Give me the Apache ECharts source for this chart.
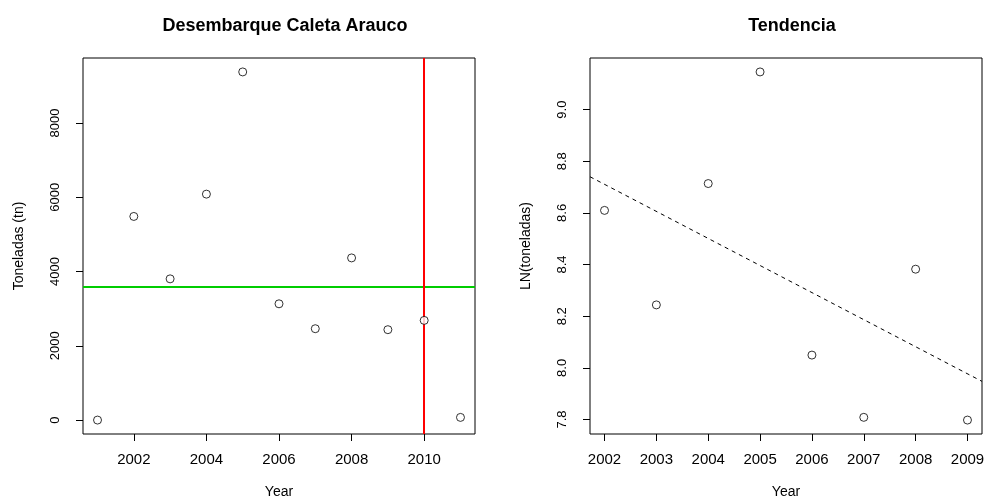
<!DOCTYPE html>
<html>
<head>
<meta charset="utf-8">
<script src="https://cdn.jsdelivr.net/npm/echarts@6/dist/echarts.min.js"></script>
<style>
  html, body { margin: 0; padding: 0; background: #fff; }
  #chart { width: 986px; height: 499px; }
</style>
</head>
<body>
<div id="chart"></div>
<script>
// datos
var years = [2001, 2002, 2003, 2004, 2005, 2006, 2007, 2008, 2009, 2010, 2011];
var toneladas = [0, 5485, 3804, 6086, 9378, 3132, 2461, 4368, 2435, 2685, 72];
var promedio = 3600;      // linea verde
var corte = 2010;         // linea roja

var leftXTicks = [2002, 2004, 2006, 2008, 2010];
var leftYTicks = [0, 2000, 4000, 6000, 8000];

var trendYears = [2002, 2003, 2004, 2005, 2006, 2007, 2008, 2009];
var rightYTicks = [7.8, 8.0, 8.2, 8.4, 8.6, 8.8, 9.0];

// LN de las toneladas 2002-2009
var lnTon = trendYears.map(function (y) {
  return Math.log(toneladas[years.indexOf(y)]);
});

// rango de ejes como en R (4% extra)
function rRange(arr) {
  var mn = Math.min.apply(null, arr), mx = Math.max.apply(null, arr);
  var d = (mx - mn) * 0.04;
  return [mn - d, mx + d];
}

// regresion lineal simple
function fit(xs, ys) {
  var n = xs.length, mx = 0, my = 0;
  for (var i = 0; i < n; i++) { mx += xs[i]; my += ys[i]; }
  mx /= n; my /= n;
  var sxy = 0, sxx = 0;
  for (var j = 0; j < n; j++) {
    sxy += (xs[j] - mx) * (ys[j] - my);
    sxx += (xs[j] - mx) * (xs[j] - mx);
  }
  var b = sxy / sxx;
  return { a: my - b * mx, b: b };
}

var lx = rRange(years), ly = rRange(toneladas);
var rx = rRange(trendYears), ry = rRange(lnTon);
var lm = fit(trendYears, lnTon);

var font = 'Liberation Sans, Arial, Helvetica, sans-serif';

function xAx(idx, range, ticks) {
  return {
    type: 'value', gridIndex: idx, min: range[0], max: range[1],
    name: 'Year', nameLocation: 'middle', nameGap: 51,
    nameTextStyle: { color: '#000', fontFamily: font, fontSize: 14 },
    axisLine: { show: false, onZero: false },
    axisTick: { show: true, length: 7, customValues: ticks, lineStyle: { color: '#000' } },
    axisLabel: { customValues: ticks, color: '#000', fontFamily: font, fontSize: 15, margin: 18,
      formatter: function (v) { return String(v); } },
    splitLine: { show: false }
  };
}

function yAx(idx, range, ticks, name, fmt) {
  return {
    type: 'value', gridIndex: idx, min: range[0], max: range[1],
    name: name, nameLocation: 'middle', nameGap: 57,
    nameTextStyle: { color: '#000', fontFamily: font, fontSize: 14 },
    axisLine: { show: false, onZero: false },
    axisTick: { show: true, length: 7, customValues: ticks, lineStyle: { color: '#000' } },
    axisLabel: { customValues: ticks, rotate: 90, color: '#000', fontFamily: font, fontSize: 13, margin: 21,
      formatter: fmt },
    splitLine: { show: false }
  };
}

var circle = {
  symbol: 'circle', symbolSize: 8,
  itemStyle: { color: '#fff', borderColor: '#000', borderWidth: 1 }
};

var myChart = echarts.init(document.getElementById('chart'));
myChart.setOption({
  animation: false,
  backgroundColor: '#fff',
  title: [
    { text: 'Desembarque Caleta Arauco', left: 280, top: 12, textAlign: 'center',
      textStyle: { fontFamily: font, fontSize: 18, fontWeight: 'bold', color: '#000' } },
    { text: 'Tendencia', left: 787, top: 12, textAlign: 'center',
      textStyle: { fontFamily: font, fontSize: 18, fontWeight: 'bold', color: '#000' } }
  ],
  grid: [
    { left: 83, right: 511, top: 58, bottom: 65, show: true, borderColor: '#000', borderWidth: 1,
      outerBoundsMode: 'none' },
    { left: 590, right: 4, top: 58, bottom: 65, show: true, borderColor: '#000', borderWidth: 1,
      outerBoundsMode: 'none' }
  ],
  xAxis: [xAx(0, lx, leftXTicks), xAx(1, rx, trendYears)],
  yAxis: [
    yAx(0, ly, leftYTicks, 'Toneladas (tn)', function (v) { return String(v); }),
    yAx(1, ry, rightYTicks, 'LN(toneladas)', function (v) { return v.toFixed(1); })
  ],
  series: [
    Object.assign({
      type: 'scatter', xAxisIndex: 0, yAxisIndex: 0, z: 5,
      data: years.map(function (y, i) { return [y, toneladas[i]]; }),
      markLine: {
        silent: true, symbol: 'none', label: { show: false },
        data: [
          { yAxis: promedio, lineStyle: { color: '#00cd00', width: 2, type: 'solid' } },
          { xAxis: corte, lineStyle: { color: '#ff0000', width: 2, type: 'solid' } }
        ]
      }
    }, circle),
    Object.assign({
      type: 'scatter', xAxisIndex: 1, yAxisIndex: 1, z: 5,
      data: trendYears.map(function (y, i) { return [y, lnTon[i]]; })
    }, circle),
    {
      type: 'line', xAxisIndex: 1, yAxisIndex: 1, symbol: 'none', silent: true,
      lineStyle: { color: '#000', width: 1, type: [4, 4] },
      data: [[rx[0], lm.a + lm.b * rx[0]], [rx[1], lm.a + lm.b * rx[1]]]
    }
  ]
});
</script>
</body>
</html>
